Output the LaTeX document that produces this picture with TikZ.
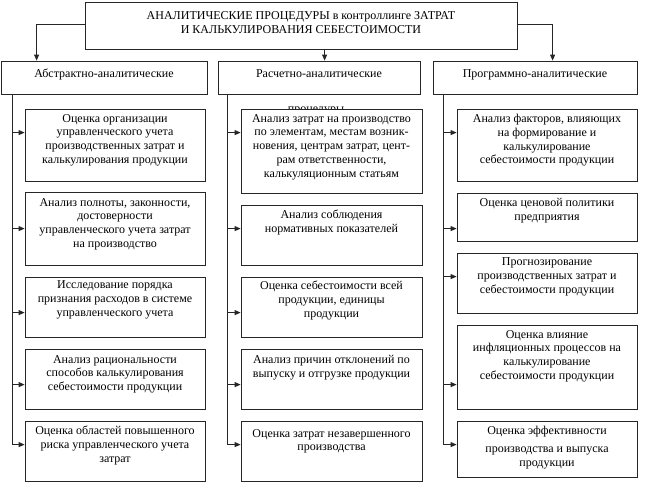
\documentclass[tikz,border=0pt]{standalone}
\usepackage{fontspec}
\setmainfont{Liberation Serif}
\usetikzlibrary{arrows.meta,calc}
\begin{document}
\begin{tikzpicture}[x=1pt,y=-1pt,
  bx/.style={draw=black!85, line width=0.8pt, fill=white, inner sep=0pt},
  tx/.style={inner sep=0pt, align=center, font=\fontsize{12}{13.8}\selectfont, execute at begin node=\strut},
  ar/.style={draw=black!85, line width=0.8pt, -{Triangle[length=6pt,width=5pt]}},
  ln/.style={draw=black!85, line width=0.8pt}]
\useasboundingbox (0,0) rectangle (646,490);
% top
\node[bx, minimum width=432, minimum height=47] (top) at (301,25.5) {};
\node[tx, anchor=north] (topt) at ($(top.north)+(0,10)$) {АНАЛИТИЧЕСКИЕ ПРОЦЕДУРЫ в контроллинге ЗАТРАТ\\И КАЛЬКУЛИРОВАНИЯ СЕБЕСТОИМОСТИ};
% categories
\node[bx, minimum width=206, minimum height=33] (k1) at (104,77.5) {};
\node[bx, minimum width=202, minimum height=33] (k2) at (319,77.5) {};
\node[bx, minimum width=204, minimum height=33] (k3) at (535,77.5) {};
\node[tx, anchor=base] (k1t) at ($(k1.center)+(0,-0.5)$) {Абстрактно-аналитические};
\node[tx, anchor=base] (k2t) at ($(k2.center)+(0,-0.5)$) {Расчетно-аналитические};
\node[tx, anchor=base] (k3t) at ($(k3.center)+(0,-0.5)$) {Программно-аналитические};
% top arrows
\coordinate (t1) at ($(k1.north west)+(36,0)$);
\coordinate (t2) at ($(k2.north west)+(107,0)$);
\coordinate (t3) at ($(k3.north west)+(120,0)$);
\draw[ar] ($(top.west)+(0,-1.5)$) -| (t1);
\draw[ar] (top.south -| t2) -- (t2);
\draw[ar] ($(top.east)+(0,-1.5)$) -| (t3);
% stray text partly hidden
\node[tx, anchor=base, execute at begin node={}] (stray) at (316,112) {процедуры};
% left column
\node[bx, minimum width=180, minimum height=72] (a1) at (115,145) {};
\node[bx, minimum width=180, minimum height=73] (a2) at (115,228.5) {};
\node[bx, minimum width=180, minimum height=60] (a3) at (115,307) {};
\node[bx, minimum width=180, minimum height=60] (a4) at (115,379) {};
\node[bx, minimum width=180, minimum height=60] (a5) at (115,451) {};
\node[tx, anchor=north] (a1t) at ($(a1.north)+(0,5.3)$) {Оценка организации\\управленческого учета\\производственных затрат и\\калькулирования продукции};
\node[tx, anchor=north] (a2t) at ($(a2.north)+(0,6.3)$) {Анализ полноты, законности,\\достоверности\\управленческого учета затрат\\на производство};
\node[tx, anchor=north] (a3t) at ($(a3.north)+(0,4.3)$) {Исследование порядка\\признания расходов в системе\\управленческого учета};
\node[tx, anchor=north] (a4t) at ($(a4.north)+(0,6.3)$) {Анализ рациональности\\способов калькулирования\\себестоимости продукции};
\node[tx, anchor=north] (a5t) at ($(a5.north)+(0,5.3)$) {Оценка областей повышенного\\риска управленческого учета\\затрат};
% middle column
\node[bx, minimum width=181, minimum height=84] (b1) at (331.5,151) {};
\node[bx, minimum width=181, minimum height=60] (b2) at (331.5,235) {};
\node[bx, minimum width=181, minimum height=60] (b3) at (331.5,307) {};
\node[bx, minimum width=181, minimum height=60] (b4) at (331.5,379) {};
\node[bx, minimum width=181, minimum height=60] (b5) at (331.5,451) {};
\node[tx, anchor=north] (b1t) at ($(b1.north)+(0,5.3)$) {Анализ затрат на производство\\по элементам, местам возник-\\новения, центрам затрат, цент-\\рам ответственности,\\калькуляционным статьям};
\node[tx, anchor=north] (b2t) at ($(b2.north)+(0,5.3)$) {Анализ соблюдения\\нормативных показателей};
\node[tx, anchor=north] (b3t) at ($(b3.north)+(0,4.3)$) {Оценка себестоимости всей\\продукции, единицы\\продукции};
\node[tx, anchor=north] (b4t) at ($(b4.north)+(0,6.3)$) {Анализ причин отклонений по\\выпуску и отгрузке продукции};
\node[tx, anchor=north] (b5t) at ($(b5.north)+(0,8.3)$) {Оценка затрат незавершенного\\производства};
% right column
\node[bx, minimum width=180, minimum height=72] (c1) at (547,145) {};
\node[bx, minimum width=180, minimum height=48] (c2) at (547,217) {};
\node[bx, minimum width=180, minimum height=60] (c3) at (547,283) {};
\node[bx, minimum width=180, minimum height=84] (c4) at (547,367) {};
\node[bx, minimum width=180, minimum height=56] (c5) at (547,449) {};
\node[tx, anchor=north] (c1t) at ($(c1.north)+(0,5.3)$) {Анализ факторов, влияющих\\на формирование и\\калькулирование\\себестоимости продукции};
\node[tx, anchor=north] (c2t) at ($(c2.north)+(0,5.3)$) {Оценка ценовой политики\\предприятия};
\node[tx, anchor=north] (c3t) at ($(c3.north)+(0,5.3)$) {Прогнозирование\\производственных затрат и\\себестоимости продукции};
\node[tx, anchor=north] (c4t) at ($(c4.north)+(0,5.3)$) {Оценка влияние\\инфляционных процессов на\\калькулирование\\себестоимости продукции};
\node[tx, anchor=north] (c5t) at ($(c5.north)+(0,5.3)$) {Оценка эффективности\\[4pt]производства и выпуска\\продукции};
% spines
\coordinate (s1) at ($(k1.south west)+(12,0)$);
\coordinate (s2) at ($(k2.south west)+(10,0)$);
\coordinate (s3) at ($(k3.south west)+(11,0)$);
\coordinate (pa1) at ($(a1.north west)+(0,24)$);
\coordinate (pa2) at ($(a2.north west)+(0,37)$);
\coordinate (pa3) at ($(a3.north west)+(0,36)$);
\coordinate (pa4) at ($(a4.north west)+(0,36)$);
\coordinate (pa5) at ($(a5.north west)+(0,24)$);
\coordinate (pb1) at ($(b1.north west)+(0,24)$);
\coordinate (pb2) at ($(b2.north west)+(0,24)$);
\coordinate (pb3) at ($(b3.north west)+(0,36)$);
\coordinate (pb4) at ($(b4.north west)+(0,36)$);
\coordinate (pb5) at ($(b5.north west)+(0,24)$);
\coordinate (pc1) at ($(c1.north west)+(0,24)$);
\coordinate (pc2) at ($(c2.north west)+(0,36)$);
\coordinate (pc3) at ($(c3.north west)+(0,24)$);
\coordinate (pc4) at ($(c4.north west)+(0,60)$);
\coordinate (pc5) at ($(c5.north west)+(0,24)$);
\draw[ar] (s1) |- (pa5);
\draw[ar] (s2) |- (pb5);
\draw[ar] (s3) |- (pc5);
\foreach \p in {pa1,pa2,pa3,pa4} \draw[ar] (s1 |- \p) -- (\p);
\foreach \p in {pb1,pb2,pb3,pb4} \draw[ar] (s2 |- \p) -- (\p);
\foreach \p in {pc1,pc2,pc3,pc4} \draw[ar] (s3 |- \p) -- (\p);
\end{tikzpicture}
\end{document}
